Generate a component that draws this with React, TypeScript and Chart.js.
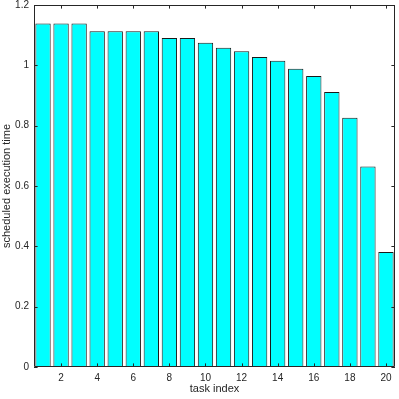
import React, { useEffect, useRef } from "react";
import { Chart, registerables } from "chart.js";

Chart.register(...registerables);

const categories = ["1","2","3","4","5","6","7","8","9","10","11","12","13","14","15","16","17","18","19","20"];
const values = [1.139, 1.139, 1.139, 1.113, 1.113, 1.113, 1.113, 1.091, 1.091, 1.075, 1.058, 1.047, 1.028, 1.015, 0.989, 0.965, 0.912, 0.826, 0.665, 0.381];
const yTicks = [0, 0.2, 0.4, 0.6, 0.8, 1, 1.2];
const xTickLabels = ["2","4","6","8","10","12","14","16","18","20"];

const AXIS_COLOR = "#262626";
const FONT = "'Liberation Sans', Helvetica, Arial, sans-serif";

const boxPlugin = {
  id: "boxTicks",
  afterDraw(chart: any) {
    const { ctx, chartArea } = chart;
    const { left, right, top, bottom } = chartArea;
    const xs = chart.scales.x;
    const ys = chart.scales.y;
    const tl = 3.6;
    ctx.save();
    ctx.strokeStyle = AXIS_COLOR;
    ctx.lineWidth = 1;
    ctx.beginPath();
    ctx.rect(left + 0.5, top + 0.5, right - left - 1, bottom - top - 1);
    ctx.stroke();
    ctx.beginPath();
    yTicks.forEach((v) => {
      const y = Math.round(ys.getPixelForValue(v)) + 0.5;
      ctx.moveTo(left, y);
      ctx.lineTo(left + tl, y);
      ctx.moveTo(right, y);
      ctx.lineTo(right - tl, y);
    });
    xTickLabels.forEach((lab) => {
      const idx = categories.indexOf(lab);
      const x = Math.round(xs.getPixelForValue(idx)) + 0.5;
      ctx.moveTo(x, bottom);
      ctx.lineTo(x, bottom - tl);
      ctx.moveTo(x, top);
      ctx.lineTo(x, top + tl);
    });
    ctx.stroke();
    ctx.restore();
  },
};

export default function App() {
  const ref = useRef<HTMLCanvasElement | null>(null);
  useEffect(() => {
    if (!ref.current) return;
    const chart = new Chart(ref.current, {
      type: "bar",
      data: {
        labels: categories,
        datasets: [
          {
            data: values,
            backgroundColor: "#00ffff",
            borderColor: "#1a1a1a",
            borderWidth: 1,
            borderSkipped: false,
            barPercentage: 0.85,
            categoryPercentage: 1,
          },
        ],
      },
      options: {
        animation: false,
        responsive: false,
        maintainAspectRatio: false,
        layout: { padding: { top: 5, right: 4, left: 0, bottom: 0 } },
        plugins: { legend: { display: false }, tooltip: { enabled: false } },
        scales: {
          x: {
            type: "category",
            offset: true,
            grid: { display: false, drawTicks: false },
            border: { display: false },
            ticks: {
              autoSkip: false,
              maxRotation: 0,
              minRotation: 0,
              padding: 5,
              color: AXIS_COLOR,
              font: { family: FONT, size: 10 },
              callback: (_v: any, i: number) => (xTickLabels.includes(categories[i]) ? categories[i] : ""),
            },
            title: {
              display: true,
              text: "task index",
              color: AXIS_COLOR,
              font: { family: FONT, size: 11 },
              padding: { top: 0, bottom: 3 },
            },
            afterFit: (s: any) => {
              s.height = 32;
              s.paddingLeft = 0;
              s.paddingRight = 0;
            },
          },
          y: {
            type: "linear",
            min: 0,
            max: 1.2,
            grid: { display: false, drawTicks: false },
            border: { display: false },
            afterBuildTicks: (s: any) => {
              s.ticks = yTicks.map((v) => ({ value: v }));
            },
            ticks: {
              padding: 5,
              color: AXIS_COLOR,
              font: { family: FONT, size: 10 },
              callback: (v: any) => String(Math.round(Number(v) * 10) / 10),
            },
            title: {
              display: true,
              text: "scheduled execution time",
              color: AXIS_COLOR,
              font: { family: FONT, size: 11 },
              padding: { top: 0, bottom: 0 },
            },
            afterFit: (s: any) => {
              s.width = 34;
              s.paddingTop = 0;
              s.paddingBottom = 0;
            },
          },
        },
      },
      plugins: [boxPlugin],
    });
    return () => chart.destroy();
  }, []);
  return (
    <div style={{ position: "fixed", left: 0, top: 0, width: 399, height: 399, background: "#fff" }}>
      <canvas ref={ref} width={399} height={399} style={{ width: 399, height: 399 }} />
    </div>
  );
}
